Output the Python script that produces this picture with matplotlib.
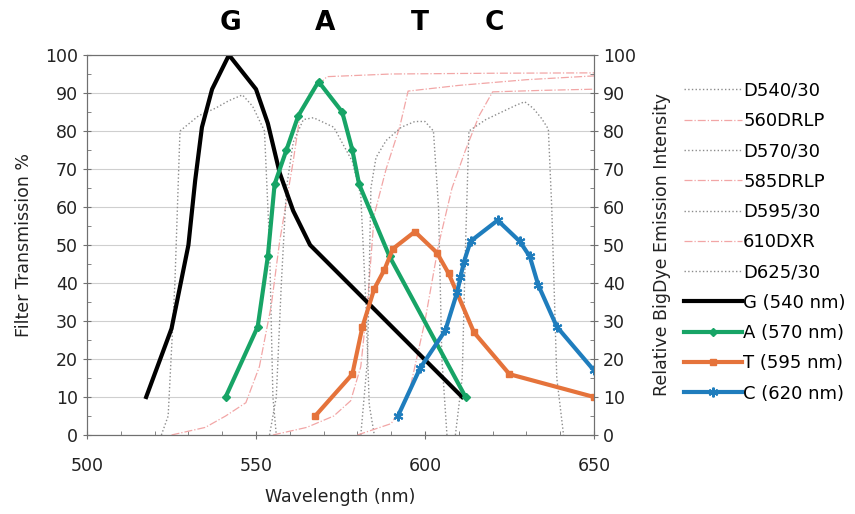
import numpy as np
import matplotlib.pyplot as plt
from matplotlib.ticker import MultipleLocator

plt.rcParams['font.family'] = ['DejaVu Sans']

# dye emission curves (nm, relative intensity)
g_x = [517.5, 525, 530, 532, 534, 537, 542, 550, 553.5, 557, 561, 566, 611]
g_y = [10, 28, 50, 67, 81, 91, 100, 91, 82, 69, 59, 50, 10]
a_x = [541, 550.5, 553.5, 555.5, 559, 562.5, 568.5, 575.5, 578.5, 580.5, 589.5, 612]
a_y = [10, 28.5, 47, 66, 75, 84, 93, 85, 75, 66, 47, 10]
t_x = [567.5, 578.5, 581.5, 585, 588, 590.5, 597, 603.5, 607, 614.5, 625, 650]
t_y = [5, 16, 28.5, 38.5, 43.5, 49, 53.5, 48, 42.5, 27, 16, 10]
c_x = [592, 598.5, 606, 609.5, 610.5, 611.5, 613.5, 621.5, 628, 631, 633.5, 639, 650]
c_y = [5, 17.5, 27.5, 37.5, 41.5, 45.5, 51, 56.5, 51, 47, 39.5, 28.5, 17]

# filter transmission curves
d540_x = [522, 524, 526, 527.5, 533, 538, 542, 546, 549, 552.5, 554, 555, 556]
d540_y = [0, 5, 40, 80, 84, 86, 88, 89.5, 86.5, 80, 50, 10, 0]
l560_x = [525, 535, 541, 547, 551, 554.5, 557, 561, 563, 566, 571, 590, 620, 650]
l560_y = [0, 2, 5, 8.5, 18, 34, 51, 72, 84, 90, 94.3, 95, 95.2, 95.3]
d570_x = [554, 556, 557.5, 559, 561, 564, 567, 573, 578.5, 581, 582.5, 583.5, 585]
d570_y = [0, 10, 40, 65, 77, 83, 83.5, 81, 72, 63, 35, 8, 0]
l585_x = [555, 565, 573, 578, 581, 583, 585, 588.5, 592.5, 595, 610, 630, 650]
l585_y = [0, 2, 5, 9, 18, 35, 58, 70, 81, 90.5, 92, 93.5, 94.5]
d595_x = [581, 583, 584, 585.5, 588.5, 593, 597, 600, 602.5, 604, 605, 606.5]
d595_y = [0, 20, 65, 73, 77.5, 81, 82.5, 82.5, 80, 60, 20, 0]
l610_x = [580, 590, 595, 600, 604, 608, 612, 616, 620, 635, 650]
l610_y = [0, 3, 10, 30, 50, 65, 75, 84, 90.3, 90.7, 91]
d625_x = [609, 611, 612, 613, 618, 622, 627, 629.5, 632, 634.5, 636.5, 637.5, 639, 641]
d625_y = [0, 15, 50, 80, 83, 84.7, 86.8, 87.7, 86, 83.3, 80.5, 60, 15, 0]

fig = plt.figure(figsize=(8.55, 5.14), dpi=100)
ax = fig.add_axes([0.1018, 0.1537, 0.5929, 0.7393])
ax2 = ax.twinx()

gray = '#8c8c8c'
pink = '#f2a6a6'
h = []
h += ax.plot(d540_x, d540_y, ls=':', color=gray, lw=1, label='D540/30')
h += ax.plot(l560_x, l560_y, ls='-.', color=pink, lw=0.9, label='560DRLP')
h += ax.plot(d570_x, d570_y, ls=':', color=gray, lw=1, label='D570/30')
h += ax.plot(l585_x, l585_y, ls='-.', color=pink, lw=0.9, label='585DRLP')
h += ax.plot(d595_x, d595_y, ls=':', color=gray, lw=1, label='D595/30')
h += ax.plot(l610_x, l610_y, ls='-.', color=pink, lw=0.9, label='610DXR')
h += ax.plot(d625_x, d625_y, ls=':', color=gray, lw=1, label='D625/30')

h += ax2.plot(g_x, g_y, color='black', lw=3, label='G (540 nm)')
h += ax2.plot(a_x, a_y, color='#17a466', lw=3, marker='D', ms=4, label='A (570 nm)')
h += ax2.plot(t_x, t_y, color='#e5733b', lw=3, marker='s', ms=5, label='T (595 nm)')
h += ax2.plot(c_x, c_y, color='#1f7dbd', lw=3, marker=(6, 2, 0), ms=7, mew=1.5, label='C (620 nm)')

for a in (ax, ax2):
    a.set_xlim(500, 650)
    a.set_ylim(0, 100)
    a.yaxis.set_major_locator(MultipleLocator(10))
    a.yaxis.set_minor_locator(MultipleLocator(5))
    for s in a.spines.values():
        s.set_color('#707070')
    a.tick_params(which='major', direction='inout', length=6, color='#707070',
                  labelsize=12.5, labelcolor='#222222')
    a.tick_params(which='minor', direction='in', length=3, color='#707070')

ax.xaxis.set_major_locator(MultipleLocator(50))
ax.xaxis.set_minor_locator(MultipleLocator(10))
ax.grid(axis='y', color='#cfcfcf', lw=0.8)
ax.set_axisbelow(True)
ax.tick_params(axis='x', pad=13)

ax.set_xlabel('Wavelength (nm)', fontsize=12.5, color='#222222', labelpad=9)
ax.set_ylabel('Filter Transmission %', fontsize=12.5, color='#222222', labelpad=9)
ax2.set_ylabel('Relative BigDye Emission Intensity', fontsize=12.5, color='#222222', labelpad=12)

for letter, pos in zip(['G', 'A', 'T', 'C'], [542.5, 570.5, 598.5, 620.5]):
    ax.text(pos, 1.085, letter, transform=ax.get_xaxis_transform(), ha='center', va='center',
            fontsize=19, fontweight='bold')

fig.legend(handles=h, loc='upper left', bbox_to_anchor=(0.792, 0.855), frameon=False,
           fontsize=13, handlelength=3.2, handletextpad=0.05, labelspacing=0.68, borderaxespad=0)

fig.savefig('out.png', dpi=100)
